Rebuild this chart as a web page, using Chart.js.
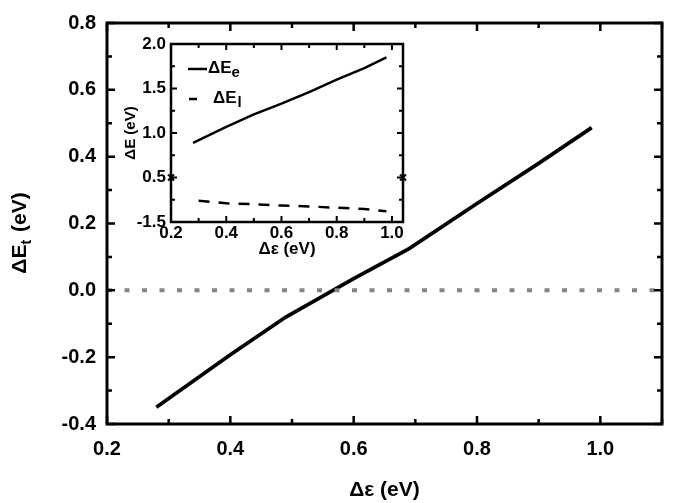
<!DOCTYPE html>
<html>
<head>
<meta charset="utf-8">
<script src="https://cdn.jsdelivr.net/npm/chart.js@4"></script>
<style>
  body { margin: 0; background: #fff; }
  #wrap { position: relative; width: 675px; height: 503px; }
  #mainChart { position: absolute; left: 0; top: 0; }
  #insetChart { position: absolute; left: 118px; top: 28px; }
</style>
</head>
<body>
<div id="wrap">
  <canvas id="mainChart" width="675" height="503"></canvas>
  <canvas id="insetChart" width="300" height="236"></canvas>
</div>
<script>
// main panel: total energy difference vs delta epsilon
const eps = [0.28, 0.4, 0.49, 0.6, 0.69, 0.8, 0.9, 0.986];
const dEt = [-0.35, -0.193, -0.08, 0.035, 0.125, 0.26, 0.38, 0.487];

// inset: electron part and lattice part
const epsE = [0.28, 0.4, 0.5, 0.6, 0.7, 0.8, 0.9, 0.98];
const dEe = [0.89, 1.07, 1.21, 1.33, 1.46, 1.60, 1.73, 1.85];
const epsL = [0.3, 0.4, 0.5, 0.6, 0.7, 0.8, 0.9, 0.98];
const dEl = [-1.26, -1.29, -1.30, -1.315, -1.325, -1.34, -1.355, -1.38];
// inset y axis is broken at 0.5: below the break it starts at -1.5
const breakOffset = 1.5;

const FONT = "'Liberation Sans', Arial, sans-serif";

function pts(xs, ys, shift) {
  return xs.map((x, i) => ({ x: x, y: ys[i] + (shift || 0) }));
}

// box frame + inward ticks (long where the tick has a label)
const frame = {
  id: 'frame',
  afterDatasetsDraw(chart, args, opts) {
    const { ctx, chartArea: a, scales: { x, y } } = chart;
    ctx.save();
    ctx.strokeStyle = '#000';
    ctx.lineWidth = opts.tickWidth;
    ctx.beginPath();
    x.ticks.forEach(t => {
      const px = x.getPixelForValue(t.value);
      const len = t.label !== '' ? opts.major : opts.minor;
      ctx.moveTo(px, a.bottom); ctx.lineTo(px, a.bottom - len);
      ctx.moveTo(px, a.top); ctx.lineTo(px, a.top + len);
    });
    y.ticks.forEach(t => {
      const py = y.getPixelForValue(t.value);
      const len = t.label !== '' ? opts.major : opts.minor;
      ctx.moveTo(a.left, py); ctx.lineTo(a.left + len, py);
      ctx.moveTo(a.right, py); ctx.lineTo(a.right - len, py);
    });
    ctx.stroke();
    ctx.lineWidth = opts.width;
    ctx.strokeRect(a.left, a.top, a.right - a.left, a.bottom - a.top);
    ctx.restore();
  }
};

// y title with subscript t
const mainTitle = {
  id: 'mainTitle',
  afterDraw(chart) {
    const ctx = chart.ctx;
    ctx.save();
    ctx.translate(20, 234);
    ctx.rotate(-Math.PI / 2);
    ctx.fillStyle = '#000';
    ctx.textBaseline = 'middle';
    const big = 'bold 21px ' + FONT, small = 'bold 14px ' + FONT;
    ctx.font = big;
    const w1 = ctx.measureText('\u0394E').width;
    const w3 = ctx.measureText(' (eV)').width;
    ctx.font = small;
    const w2 = ctx.measureText('t').width;
    let x0 = -(w1 + w2 + w3) / 2;
    ctx.font = big;
    ctx.fillText('\u0394E', x0, 0);
    ctx.font = small;
    ctx.fillText('t', x0 + w1, 7);
    ctx.font = big;
    ctx.fillText(' (eV)', x0 + w1 + w2 + 2, 0);
    ctx.restore();
  }
};

const mainLabel = v => {
  const k = Math.round(v * 10);
  return (k % 2 === 0 && k <= 10) ? (k / 10).toFixed(1) : '';
};

const mainChart = new Chart(document.getElementById('mainChart'), {
  type: 'line',
  data: {
    datasets: [
      {
        data: [{ x: 0.2, y: 0 }, { x: 1.1, y: 0 }],
        borderColor: '#858585',
        borderWidth: 4,
        borderDash: [5, 12.5],
        pointRadius: 0
      },
      {
        data: pts(eps, dEt),
        borderColor: '#000',
        borderWidth: 3.7,
        pointRadius: 0,
        tension: 0
      }
    ]
  },
  options: {
    responsive: false,
    animation: false,
    layout: { padding: { top: 15, right: 7, left: 0, bottom: 0 } },
    plugins: {
      legend: { display: false },
      tooltip: { enabled: false },
      frame: { width: 3, tickWidth: 2.5, major: 8, minor: 5 }
    },
    scales: {
      x: {
        type: 'linear', min: 0.2, max: 1.1,
        grid: { display: false, drawTicks: false }, border: { display: false },
        ticks: {
          stepSize: 0.1, autoSkip: false, maxRotation: 0, padding: 13,
          color: '#000', font: { family: FONT, size: 20, weight: 'bold' },
          callback: mainLabel
        },
        title: {
          display: true, text: '\u0394\u03b5 (eV)', color: '#000',
          font: { family: FONT, size: 21, weight: 'bold' },
          padding: { top: 0, bottom: 0 }
        },
        afterFit: s => { s.height = 79; }
      },
      y: {
        min: -0.4, max: 0.8,
        grid: { display: false, drawTicks: false }, border: { display: false },
        ticks: {
          stepSize: 0.1, autoSkip: false, padding: 11,
          color: '#000', font: { family: FONT, size: 20, weight: 'bold' },
          callback: mainLabel
        },
        afterFit: s => { s.width = 107; }
      }
    }
  },
  plugins: [frame, mainTitle]
});

// white box behind inset, break marks and the hand-drawn legend
const insetDeco = {
  id: 'insetDeco',
  beforeDraw(chart) {
    const { ctx, chartArea: a } = chart;
    ctx.save();
    ctx.fillStyle = '#fff';
    ctx.fillRect(a.left, a.top, a.right - a.left, a.bottom - a.top);
    ctx.restore();
  },
  afterDraw(chart) {
    const { ctx, chartArea: a, scales: { y } } = chart;
    ctx.save();
    ctx.strokeStyle = '#000';
    ctx.lineWidth = 2;
    const yb = y.getPixelForValue(0.5);
    [a.left, a.right].forEach(xb => {
      ctx.beginPath();
      ctx.moveTo(xb - 3, yb - 3); ctx.lineTo(xb + 3, yb + 3);
      ctx.moveTo(xb - 3, yb + 3); ctx.lineTo(xb + 3, yb - 3);
      ctx.stroke();
    });
    // legend
    ctx.lineWidth = 2.5;
    ctx.beginPath();
    ctx.moveTo(70, 41); ctx.lineTo(89, 41);
    ctx.moveTo(71, 71); ctx.lineTo(79, 71);
    ctx.stroke();
    ctx.fillStyle = '#000';
    ctx.textBaseline = 'middle';
    const big = 'bold 17px ' + FONT, small = 'bold 15px ' + FONT;
    ctx.font = big;
    const w = ctx.measureText('\u0394E').width;
    ctx.fillText('\u0394E', 90, 40);
    ctx.fillText('\u0394E', 95, 70);
    ctx.font = small;
    ctx.fillText('e', 90 + w, 45);
    ctx.fillText('l', 95 + w + 1, 75);
    ctx.restore();
  }
};

const insetChart = new Chart(document.getElementById('insetChart'), {
  type: 'line',
  data: {
    datasets: [
      {
        data: pts(epsE, dEe),
        borderColor: '#000',
        borderWidth: 2.5,
        pointRadius: 0
      },
      {
        data: pts(epsL, dEl, breakOffset),
        borderColor: '#000',
        borderWidth: 2.5,
        borderDash: [11, 9],
        pointRadius: 0
      }
    ]
  },
  options: {
    responsive: false,
    animation: false,
    layout: { padding: { top: 16, right: 15, left: 0, bottom: 0 } },
    plugins: {
      legend: { display: false },
      tooltip: { enabled: false },
      frame: { width: 2.5, tickWidth: 2, major: 6, minor: 4 }
    },
    scales: {
      x: {
        type: 'linear', min: 0.2, max: 1.04,
        grid: { display: false, drawTicks: false }, border: { display: false },
        ticks: {
          stepSize: 0.1, autoSkip: false, maxRotation: 0, padding: 1,
          includeBounds: false,
          color: '#000', font: { family: FONT, size: 17, weight: 'bold' },
          callback: v => {
            const k = Math.round(v * 100);
            return k % 20 === 0 ? (k / 100).toFixed(1) : '';
          }
        },
        title: {
          display: true, text: '\u0394\u03b5 (eV)', color: '#000',
          font: { family: FONT, size: 17, weight: 'bold' },
          padding: { top: 0, bottom: 4 }
        },
        afterFit: s => { s.height = 42; }
      },
      y: {
        min: 0, max: 2,
        grid: { display: false, drawTicks: false }, border: { display: false },
        ticks: {
          stepSize: 0.25, autoSkip: false, padding: 5,
          color: '#000', font: { family: FONT, size: 17, weight: 'bold' },
          callback: v => {
            const k = Math.round(v * 100);
            if (k === 0) return (-breakOffset).toFixed(1);
            return k % 50 === 0 ? (k / 100).toFixed(1) : '';
          }
        },
        title: {
          display: true, text: '\u0394E (eV)', color: '#000',
          font: { family: FONT, size: 15, weight: 'bold' },
          padding: { top: 4, bottom: 0 }
        },
        afterFit: s => { s.width = 53; }
      }
    }
  },
  plugins: [frame, insetDeco]
});
</script>
</body>
</html>
